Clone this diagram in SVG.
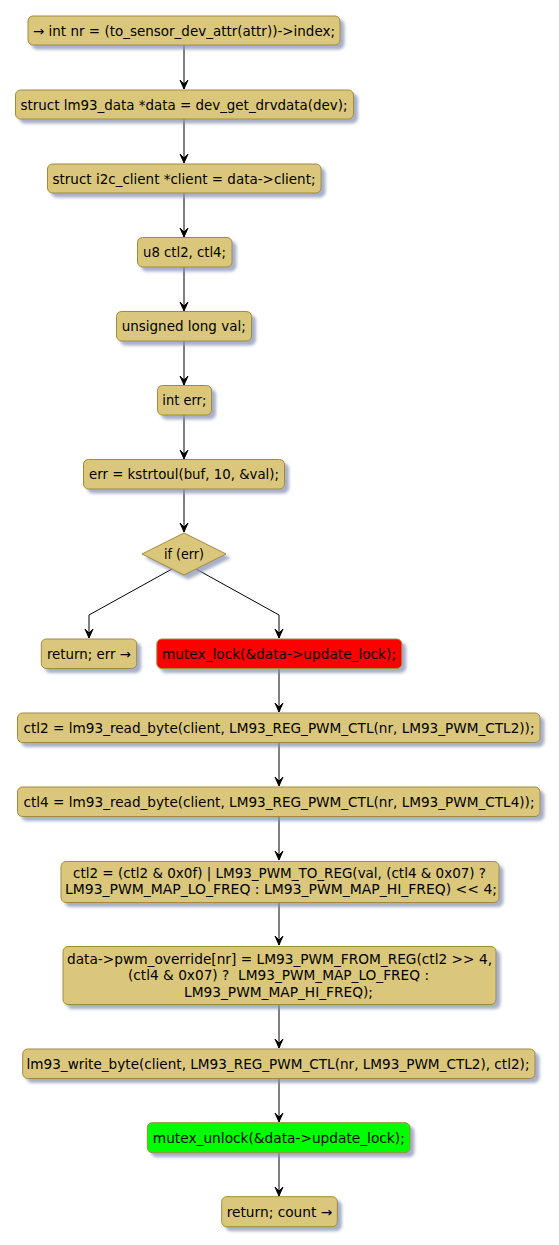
<svg xmlns="http://www.w3.org/2000/svg" width="559" height="1245" viewBox="0 0 559 1245">
<defs>
<filter id="sh" x="-10%" y="-20%" width="130%" height="160%">
<feGaussianBlur in="SourceAlpha" stdDeviation="1.5" result="b"/>
<feOffset in="b" dx="4" dy="4" result="o"/>
<feFlood flood-color="#8a95b5" flood-opacity="0.75"/>
<feComposite in2="o" operator="in" result="s"/>
<feMerge><feMergeNode in="s"/><feMergeNode in="SourceGraphic"/></feMerge>
</filter>
</defs>
<style>
.n{fill:#dbc77b;stroke:#a08a3c;stroke-width:1;filter:url(#sh)}
.red{fill:#ff0000}
.green{fill:#00ff00}
text{font-family:"DejaVu Sans",sans-serif;font-size:13.8px;fill:#000;text-anchor:middle}
.e{fill:none;stroke:#000;stroke-width:1}
.a{fill:#000;stroke:#000;stroke-width:1}
</style>
<rect width="559" height="1245" fill="#fff"/>
<g id="connectors">
<line class="e" x1="184" y1="45" x2="184" y2="89"/><polygon class="a" points="180,80 184,89 188,80 184,84"/>
<line class="e" x1="184" y1="119" x2="184" y2="163"/><polygon class="a" points="180,154 184,163 188,154 184,158"/>
<line class="e" x1="184" y1="193" x2="184" y2="237"/><polygon class="a" points="180,228 184,237 188,228 184,232"/>
<line class="e" x1="184" y1="267" x2="184" y2="311"/><polygon class="a" points="180,302 184,311 188,302 184,306"/>
<line class="e" x1="184" y1="341" x2="184" y2="385"/><polygon class="a" points="180,376 184,385 188,376 184,380"/>
<line class="e" x1="184" y1="415" x2="184" y2="459"/><polygon class="a" points="180,450 184,459 188,450 184,454"/>
<line class="e" x1="184" y1="489" x2="184" y2="532"/><polygon class="a" points="180,523 184,532 188,523 184,527"/>
<polyline class="e" points="172,569 89,615 89,638"/><polygon class="a" points="85,629 89,638 93,629 89,633"/>
<polyline class="e" points="196,569 279,615 279,638"/><polygon class="a" points="275,629 279,638 283,629 279,633"/>
<line class="e" x1="279" y1="668" x2="279" y2="712"/><polygon class="a" points="275,703 279,712 283,703 279,707"/>
<line class="e" x1="279" y1="742" x2="279" y2="786"/><polygon class="a" points="275,777 279,786 283,777 279,781"/>
<line class="e" x1="279" y1="816" x2="279" y2="860"/><polygon class="a" points="275,851 279,860 283,851 279,855"/>
<line class="e" x1="279" y1="902" x2="279" y2="945"/><polygon class="a" points="275,936 279,945 283,936 279,940"/>
<line class="e" x1="279" y1="1004" x2="279" y2="1048"/><polygon class="a" points="275,1039 279,1048 283,1039 279,1043"/>
<line class="e" x1="279" y1="1078" x2="279" y2="1122"/><polygon class="a" points="275,1113 279,1122 283,1113 279,1117"/>
<line class="e" x1="279" y1="1152" x2="279" y2="1196"/><polygon class="a" points="275,1187 279,1196 283,1187 279,1191"/>
</g>
<g id="n1"><rect class="n" x="28" y="16" width="312" height="29" rx="5"/><text x="184" y="35.5" textLength="302" lengthAdjust="spacingAndGlyphs">→ int nr = (to_sensor_dev_attr(attr))-&gt;index;</text></g>
<g id="n2"><rect class="n" x="15.5" y="90" width="338" height="29" rx="5"/><text x="184" y="109.5" textLength="327" lengthAdjust="spacingAndGlyphs">struct lm93_data *data = dev_get_drvdata(dev);</text></g>
<g id="n3"><rect class="n" x="47.5" y="164" width="273.5" height="29" rx="5"/><text x="184" y="183.5" textLength="263" lengthAdjust="spacingAndGlyphs">struct i2c_client *client = data-&gt;client;</text></g>
<g id="n4"><rect class="n" x="137.5" y="237.5" width="94.5" height="29.5" rx="5"/><text x="184.5" y="257.3" textLength="83" lengthAdjust="spacingAndGlyphs">u8 ctl2, ctl4;</text></g>
<g id="n5"><rect class="n" x="116.5" y="311.5" width="135" height="29.5" rx="5"/><text x="183.7" y="331.3" textLength="124" lengthAdjust="spacingAndGlyphs">unsigned long val;</text></g>
<g id="n6"><rect class="n" x="157.5" y="385.5" width="54" height="29.5" rx="5"/><text x="184.3" y="405.3" textLength="44" lengthAdjust="spacingAndGlyphs">int err;</text></g>
<g id="n7"><rect class="n" x="83.5" y="459.5" width="201" height="29.5" rx="5"/><text x="184" y="479.3" textLength="190" lengthAdjust="spacingAndGlyphs">err = kstrtoul(buf, 10, &amp;val);</text></g>
<g id="n8"><polygon class="n" points="142,554 184,533 226,554 184,575"/><text x="184" y="558.5" textLength="40" lengthAdjust="spacingAndGlyphs">if (err)</text></g>
<g id="n9"><rect class="n" x="41.3" y="639" width="95.4" height="29.5" rx="5"/><text x="88.9" y="658.8" textLength="84" lengthAdjust="spacingAndGlyphs">return; err →</text></g>
<g id="n10"><rect class="n red" x="156.8" y="639" width="245" height="29.5" rx="5"/><text x="279" y="658.8" textLength="234" lengthAdjust="spacingAndGlyphs">mutex_lock(&amp;data-&gt;update_lock);</text></g>
<g id="n11"><rect class="n" x="17.5" y="713" width="522.5" height="29.5" rx="5"/><text x="279" y="732.8" textLength="511" lengthAdjust="spacingAndGlyphs">ctl2 = lm93_read_byte(client, LM93_REG_PWM_CTL(nr, LM93_PWM_CTL2));</text></g>
<g id="n12"><rect class="n" x="17.5" y="787" width="522.5" height="29.5" rx="5"/><text x="279" y="806.8" textLength="511" lengthAdjust="spacingAndGlyphs">ctl4 = lm93_read_byte(client, LM93_REG_PWM_CTL(nr, LM93_PWM_CTL4));</text></g>
<g id="n13"><rect class="n" x="61" y="861.5" width="438" height="41" rx="5"/><text x="279.5" y="878.3" textLength="413" lengthAdjust="spacingAndGlyphs">ctl2 = (ctl2 &amp; 0x0f) | LM93_PWM_TO_REG(val, (ctl4 &amp; 0x07) ?</text><text x="281" y="894.3" textLength="432" lengthAdjust="spacingAndGlyphs">LM93_PWM_MAP_LO_FREQ : LM93_PWM_MAP_HI_FREQ) &lt;&lt; 4;</text></g>
<g id="n14"><rect class="n" x="63" y="946.5" width="433" height="58" rx="5"/><text x="279.5" y="963.8" textLength="425" lengthAdjust="spacingAndGlyphs">data-&gt;pwm_override[nr] = LM93_PWM_FROM_REG(ctl2 &gt;&gt; 4,</text><text x="278.5" y="980" textLength="301" lengthAdjust="spacingAndGlyphs" xml:space="preserve">(ctl4 &amp; 0x07) ?  LM93_PWM_MAP_LO_FREQ :</text><text x="278.5" y="996.5" textLength="189" lengthAdjust="spacingAndGlyphs">LM93_PWM_MAP_HI_FREQ);</text></g>
<g id="n15"><rect class="n" x="22.7" y="1049" width="512.3" height="29.5" rx="5"/><text x="278" y="1068.8" textLength="503" lengthAdjust="spacingAndGlyphs">lm93_write_byte(client, LM93_REG_PWM_CTL(nr, LM93_PWM_CTL2), ctl2);</text></g>
<g id="n16"><rect class="n green" x="147.3" y="1122.7" width="262.7" height="30" rx="5"/><text x="278.8" y="1142.5" textLength="252" lengthAdjust="spacingAndGlyphs">mutex_unlock(&amp;data-&gt;update_lock);</text></g>
<g id="n17"><rect class="n" x="221.7" y="1196.7" width="115.6" height="30" rx="5"/><text x="279.5" y="1216.5" textLength="105.6" lengthAdjust="spacingAndGlyphs">return; count →</text></g>
</svg>
